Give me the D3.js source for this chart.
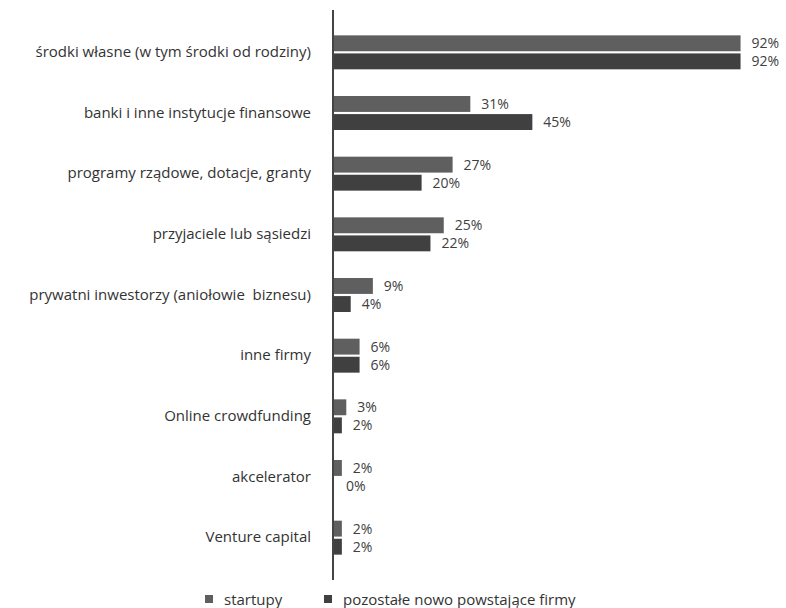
<!DOCTYPE html>
<html>
<head>
<meta charset="utf-8">
<script src="https://cdn.jsdelivr.net/npm/d3@7"></script>
<style>
  html, body { margin: 0; padding: 0; background: #fff; }
  svg { display: block; }
  text { font-family: "Open Sans", "DejaVu Sans", sans-serif; white-space: pre; }
</style>
</head>
<body>
<svg id="chart" width="786" height="608"></svg>
<script>
// Sources of financing, share of firms (%)
const categories = [
  "środki własne (w tym środki od rodziny)",
  "banki i inne instytucje finansowe",
  "programy rządowe, dotacje, granty",
  "przyjaciele lub sąsiedzi",
  "prywatni inwestorzy (aniołowie  biznesu)",
  "inne firmy",
  "Online crowdfunding",
  "akcelerator",
  "Venture capital"
];
const startupy = [92, 31, 27, 25, 9, 6, 3, 2, 2];
const pozostale = [92, 45, 20, 22, 4, 6, 2, 0, 2];
const seriesNames = ["startupy", "pozostałe nowo powstające firmy"];
const seriesColors = ["#5f5f5f", "#404040"];

const svg = d3.select("#chart");
const axisX = 333;

const x = d3.scaleLinear().domain([0, 100]).range([axisX, axisX + 443]);
const y = d3.scaleBand().domain(categories).range([22, 568]).paddingInner(0.44).paddingOuter(0.22);
const sub = d3.scaleBand().domain([0, 1]).range([0, y.bandwidth()]).paddingInner(0.12);

const rows = categories.map((c, i) => ({ c, vals: [startupy[i], pozostale[i]] }));

const g = svg.append("g");
const grp = g.selectAll("g.row").data(rows).join("g")
  .attr("class", "row")
  .attr("transform", d => `translate(0,${y(d.c)})`);

grp.selectAll("rect").data(d => d.vals).join("rect")
  .attr("x", x(0))
  .attr("y", (v, j) => sub(j))
  .attr("width", v => x(v) - x(0))
  .attr("height", sub.bandwidth())
  .attr("fill", (v, j) => seriesColors[j]);

grp.selectAll("text.val").data(d => d.vals).join("text")
  .attr("class", "val")
  .attr("x", v => x(v) + (v === 0 ? 13 : 11))
  .attr("y", (v, j) => sub(j) + sub.bandwidth() / 2)
  .attr("dy", "0.35em")
  .attr("font-size", 14)
  .attr("fill", "#404040")
  .text(v => v + "%");

// category axis on the left
const yAxis = d3.axisLeft(y).tickSize(0).tickPadding(22);
const ax = svg.append("g").attr("transform", `translate(${axisX},0)`).call(yAxis);
ax.select(".domain").remove();
ax.selectAll("text")
  .attr("font-size", 15)
  .attr("fill", "#333")
  .style("font-family", "'Open Sans', 'DejaVu Sans', sans-serif")
  .style("white-space", "pre");

svg.append("line")
  .attr("x1", axisX).attr("x2", axisX)
  .attr("y1", 10).attr("y2", 580)
  .attr("stroke", "#444").attr("stroke-width", 2);

// legend
const legendPos = [205, 324];
const lg = svg.append("g").selectAll("g").data(seriesNames).join("g")
  .attr("transform", (d, i) => `translate(${legendPos[i]},600)`);
lg.append("rect").attr("x", 0).attr("y", -5).attr("width", 8).attr("height", 8)
  .attr("fill", (d, i) => seriesColors[i]);
lg.append("text").attr("x", 19).attr("y", 0).attr("dy", "0.35em")
  .attr("font-size", 15).attr("fill", "#333").text(d => d);
</script>
</body>
</html>
